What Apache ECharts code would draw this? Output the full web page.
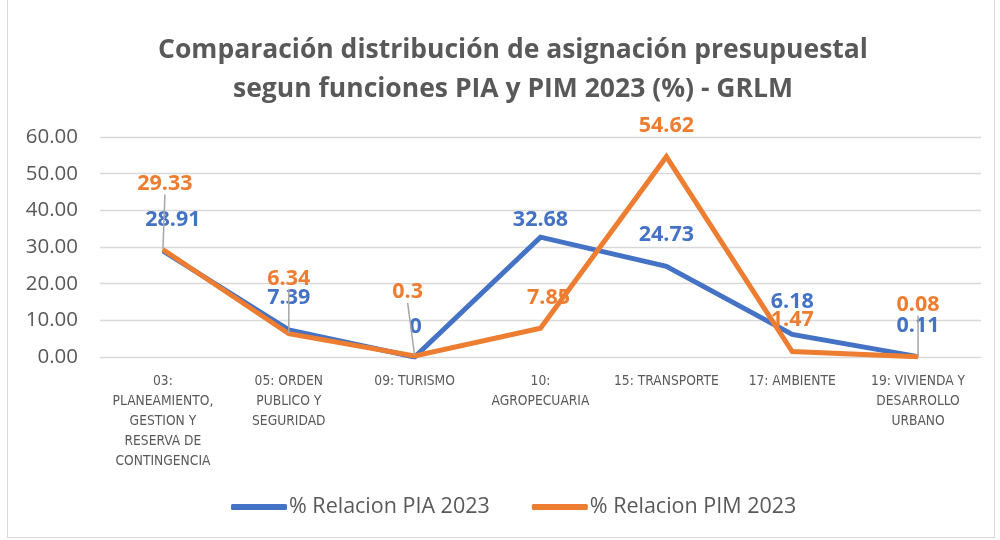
<!DOCTYPE html>
<html><head><meta charset="utf-8">
<script src="https://cdn.jsdelivr.net/npm/echarts@6/dist/echarts.min.js"></script>
<style>
html,body{margin:0;padding:0;background:#fff;}
#frame{position:absolute;left:7px;top:-2px;width:988px;height:540px;border:1px solid #d9d9d9;box-sizing:border-box;}
#c{position:absolute;left:0;top:0;width:1000px;height:540px;}
</style></head>
<body><div id="frame"></div><div id="c"></div>
<script>
const categories = [
  "03:\nPLANEAMIENTO,\nGESTION Y\nRESERVA DE\nCONTINGENCIA",
  "05: ORDEN\nPUBLICO Y\nSEGURIDAD",
  "09: TURISMO",
  "10:\nAGROPECUARIA",
  "15: TRANSPORTE",
  "17: AMBIENTE",
  "19: VIVIENDA Y\nDESARROLLO\nURBANO"
];
const piaValues = [28.91, 7.39, 0, 32.68, 24.73, 6.18, 0.11];
const pimValues = [29.33, 6.34, 0.3, 7.85, 54.62, 1.47, 0.08];
const piaLabels = ["28.91", "7.39", "0", "32.68", "24.73", "6.18", "0.11"];
const pimLabels = ["29.33", "6.34", "0.3", "7.85", "54.62", "1.47", "0.08"];
const yTicks = [0, 10, 20, 30, 40, 50, 60];

// label placement (pixel offsets of label centre from point) – styling only
const piaOff = [[10,-31],[0,-32],[1,-30],[0,-17],[0,-31],[0,-32],[0,-31]];
const pimOff = [[2,-66],[0,-55],[-7,-64],[8,-30],[0,-31],[0,-32],[0,-52]];
const piaLeader = [false,false,false,false,false,false,false];
const pimLeader = [true,true,true,false,false,false,true];

const BLUE = '#4472C4', ORANGE = '#ED7D31', GREY = '#595959';
const FONT = "'Open Sans', sans-serif";
const NARROW = "'Liberation Sans Narrow', 'DejaVu Sans Condensed', sans-serif";

function mkData(vals, leaders) {
  return vals.map((v, i) => ({ value: v, labelLine: { show: leaders[i] } }));
}
function mkLayout(off) {
  return function (p) {
    const r = p.rect;
    const cx = r.x + r.width / 2;
    const cy = r.y + r.height / 2;
    const lr = p.labelRect;
    const lcx = lr.x + lr.width / 2, lcy = lr.y + lr.height / 2;
    const o = off[p.dataIndex];
    return { dx: cx + o[0] - lcx, dy: cy + o[1] - lcy };
  };
}

const chart = echarts.init(document.getElementById('c'), null, { renderer: 'canvas' });
chart.setOption({
  animation: false,
  backgroundColor: 'transparent',
  title: {
    text: 'Comparación distribución de asignación presupuestal\nsegun funciones PIA y PIM 2023 (%) - GRLM',
    left: 508, top: 26, textAlign: 'center',
    textStyle: { fontFamily: FONT, fontWeight: 'bold', fontSize: 26.5, color: GREY, lineHeight: 39 }
  },
  legend: {
    bottom: 17, left: 226,
    itemWidth: 56, itemHeight: 6, itemGap: 42,
    icon: 'roundRect',
    textStyle: { fontFamily: FONT, fontSize: 21.5, color: GREY, padding: [0, 0, 0, -3] },
    data: ['% Relacion PIA 2023', '% Relacion PIM 2023']
  },
  grid: { left: 100, right: 19, top: 137, bottom: 183, containLabel: false },
  xAxis: {
    type: 'category', data: categories, boundaryGap: true,
    axisLine: { show: true, lineStyle: { color: '#d9d9d9', width: 1 } },
    axisTick: { show: false },
    axisLabel: { interval: 0, fontFamily: NARROW, fontSize: 13.7, color: GREY, lineHeight: 20, margin: 14 }
  },
  yAxis: {
    type: 'value', min: yTicks[0], max: yTicks[yTicks.length - 1], interval: 10,
    axisLine: { show: false }, axisTick: { show: false },
    splitLine: { lineStyle: { color: '#d9d9d9', width: 1.3 } },
    axisLabel: { fontFamily: FONT, fontSize: 20.5, color: GREY, margin: 22, formatter: v => v.toFixed(2) }
  },
  series: [
    {
      name: '% Relacion PIA 2023', type: 'line', data: mkData(piaValues, piaLeader),
      color: BLUE, symbol: 'circle', symbolSize: 1, showSymbol: true,
      lineStyle: { width: 5, color: BLUE, join: 'miter' },
      itemStyle: { color: BLUE },
      label: { show: true, position: 'top', fontFamily: FONT, fontWeight: 'bold', fontSize: 21.5, color: BLUE,
               formatter: p => piaLabels[p.dataIndex] },
      labelLine: { show: false, lineStyle: { color: '#a6a6a6', width: 1.5 } },
      labelLayout: mkLayout(piaOff),
      z: 2
    },
    {
      name: '% Relacion PIM 2023', type: 'line', data: mkData(pimValues, pimLeader),
      color: ORANGE, symbol: 'circle', symbolSize: 1, showSymbol: true,
      lineStyle: { width: 5, color: ORANGE, join: 'miter' },
      itemStyle: { color: ORANGE },
      label: { show: true, position: 'top', fontFamily: FONT, fontWeight: 'bold', fontSize: 21.5, color: ORANGE,
               formatter: p => pimLabels[p.dataIndex] },
      labelLine: { show: false, lineStyle: { color: '#a6a6a6', width: 1.5 } },
      labelLayout: mkLayout(pimOff),
      z: 3
    }
  ]
});
</script></body></html>
